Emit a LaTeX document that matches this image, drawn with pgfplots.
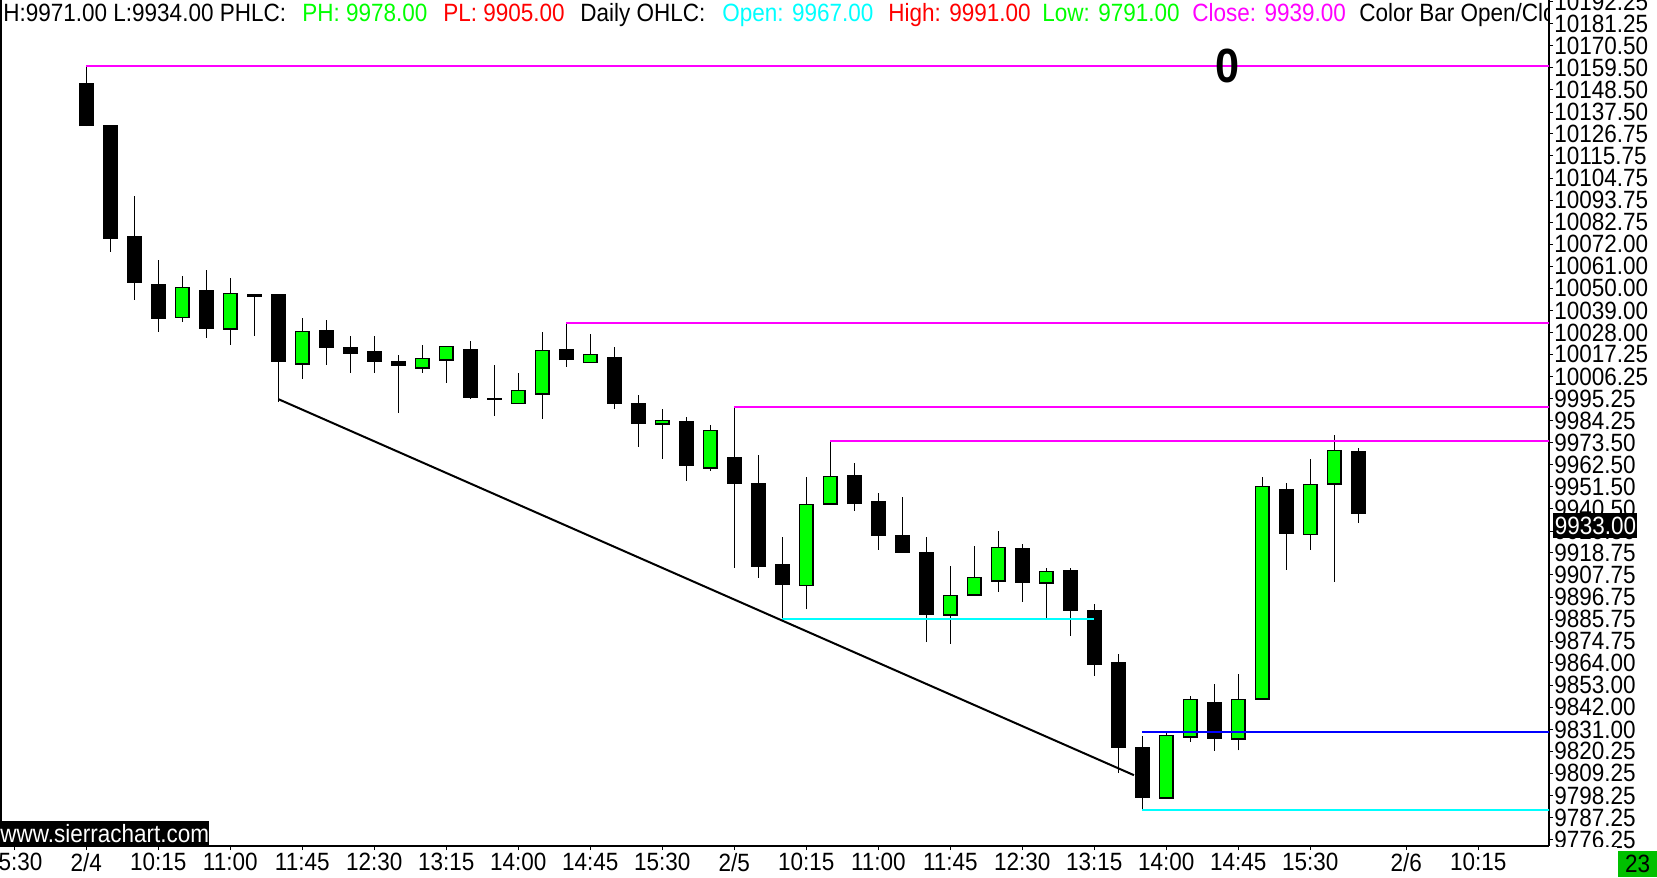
\documentclass[border=0pt]{standalone}
\usepackage{fontspec}
\setmainfont{Liberation Sans}[FakeStretch=0.9]
\usepackage{pgfplots}
\usepackage{pgfplotstable}
\pgfplotsset{compat=1.18}

\definecolor{cgreen}{HTML}{00FF00}
\definecolor{cmag}{HTML}{FF00FF}
\definecolor{ccyan}{HTML}{00FFFF}
\definecolor{cblue}{HTML}{0000FF}
\definecolor{cred}{HTML}{FF0000}
\definecolor{boxgreen}{HTML}{00C000}

% 15 min bars, i = bar number (0 = 2/4 9:30)
% down (black) bars
\pgfplotstableread{
i o h l c
0 10152.0 10160.5 10130.5 10130.5
1 10131.0 10131.0 10068.2 10074.7
2 10076.0 10095.8 10044.4 10052.8
3 10052.2 10064.1 10028.5 10035.0
5 10049.2 10059.1 10025.5 10030.0
7 10047.2 10047.2 10026.5 10045.9
8 10047.2 10047.2 9993.5 10013.6
10 10029.3 10034.3 10012.1 10020.5
11 10020.9 10026.3 10008.1 10017.6
12 10018.9 10026.3 10008.1 10013.6
13 10013.9 10016.9 9988.3 10011.6
16 10019.9 10023.9 9995.1 9995.7
17 9995.4 10011.9 9986.7 9994.6
20 10019.7 10032.9 10011.1 10014.4
22 10015.7 10020.9 9990.2 9992.7
23 9992.9 9996.9 9971.4 9982.8
25 9984.0 9986.0 9954.5 9961.9
27 9966.1 9990.9 9911.3 9953.0
28 9953.3 9967.2 9906.3 9911.8
29 9913.1 9926.5 9885.8 9902.9
32 9957.3 9963.3 9939.6 9942.9
33 9944.4 9948.3 9920.1 9927.2
34 9927.5 9946.4 9918.8 9918.8
35 9919.1 9926.4 9874.4 9888.0
39 9920.9 9923.1 9894.4 9903.9
41 9910.0 9911.0 9877.4 9890.0
42 9890.3 9893.3 9857.7 9863.2
43 9864.5 9868.5 9809.5 9821.9
44 9822.3 9827.8 9791.0 9797.2
47 9844.6 9853.6 9820.5 9826.4
50 9950.4 9953.2 9910.3 9928.2
53 9969.1 9970.5 9933.7 9938.1
}\downbars
% up (green) bars
\pgfplotstableread{
i o h l c
4 10036.0 10056.1 10033.5 10050.0
6 10030.2 10055.1 10022.0 10047.0
9 10012.8 10035.3 10005.2 10028.2
14 10010.8 10021.9 10008.1 10014.8
15 10014.8 10020.7 10003.2 10020.7
18 9993.3 10008.0 9993.3 9999.0
19 9997.9 10028.1 9985.3 10018.7
21 10013.6 10027.3 10013.1 10016.7
24 9983.0 9990.1 9965.4 9984.0
26 9961.1 9982.0 9959.5 9979.0
30 9902.9 9956.3 9890.6 9942.3
31 9943.3 9974.3 9943.3 9956.2
36 9888.2 9912.2 9873.6 9897.1
37 9898.1 9922.1 9897.4 9906.0
38 9905.0 9929.5 9899.4 9920.9
40 9904.0 9911.0 9886.3 9909.0
45 9797.4 9829.1 9797.4 9827.6
46 9827.6 9847.6 9825.0 9845.5
48 9826.6 9858.5 9820.6 9845.5
49 9846.4 9956.3 9845.9 9951.2
51 9928.2 9965.3 9920.3 9952.2
52 9953.2 9977.2 9904.4 9969.1
}\upbars

\pgfplotsset{
  wick/.style={draw=none, no markers, forget plot,
    error bars/.cd, y dir=plus, y explicit, error mark=none,
    error bar style={draw=black, line width=0.75pt, solid}},
  body/.style 2 args={draw=none, no markers, forget plot,
    error bars/.cd, y dir=plus, y explicit, error mark=none,
    error bar style={draw=#1, line width=#2, solid, line cap=butt}},
}

\begin{document}
\begin{tikzpicture}
\useasboundingbox (0,0) rectangle (828.5pt,438.5pt);
\fill[white] (0,0) rectangle (828.5pt,438.5pt);
\begin{axis}[
    at={(0pt,15.5pt)}, anchor=south west,
    scale only axis, width=774.5pt, height=423pt,
    xmin=-3.596, xmax=60.946,
    ymin=9773.13, ymax=10193.17,
    axis x line*=bottom, axis y line*=right,
    axis line style={-, line width=0.75pt},
    tick align=outside, major tick length=2pt,
    tick style={black, line width=0.5pt},
    scaled y ticks=false,
    clip mode=individual,
    tick label style={font=\fontsize{12.5}{14}\selectfont},
    xtick={-3,0,3,6,9,12,15,18,21,24,27,30,33,36,39,42,45,48,51,55,58},
    xticklabels={15:30,2/4,10:15,11:00,11:45,12:30,13:15,14:00,14:45,15:30,2/5,10:15,11:00,11:45,12:30,13:15,14:00,14:45,15:30,2/6,10:15},
    xticklabel style={anchor=north, inner sep=0pt, yshift=-1.5pt},
    ytick={10192.25,10181.25,10170.5,10159.5,10148.5,10137.5,10126.75,10115.75,10104.75,10093.75,10082.75,10072,10061,10050,10039,10028,10017.25,10006.25,9995.25,9984.25,9973.5,9962.5,9951.5,9940.5,9929.5,9918.75,9907.75,9896.75,9885.75,9874.75,9864,9853,9842,9831,9820.25,9809.25,9798.25,9787.25,9776.25},
    yticklabels={10192.25,10181.25,10170.50,10159.50,10148.50,10137.50,10126.75,10115.75,10104.75,10093.75,10082.75,10072.00,10061.00,10050.00,10039.00,10028.00,10017.25,10006.25,9995.25,9984.25,9973.50,9962.50,9951.50,9940.50,9929.50,9918.75,9907.75,9896.75,9885.75,9874.75,9864.00,9853.00,9842.00,9831.00,9820.25,9809.25,9798.25,9787.25,9776.25},
    yticklabel style={anchor=west, inner sep=0pt, xshift=0.5pt},
]

% wicks (low to high)
\addplot[wick] table[x=i, y=l, y error plus expr=\thisrow{h}-\thisrow{l}] {\downbars};
\addplot[wick] table[x=i, y=l, y error plus expr=\thisrow{h}-\thisrow{l}] {\upbars};
% black bodies (close to open)
\addplot[body={black}{7.5pt}] table[x=i, y=c, y error plus expr=\thisrow{o}-\thisrow{c}] {\downbars};
% green bodies: black outline, then green fill (open to close)
\addplot[body={black}{7.5pt}] table[x=i, y expr=\thisrow{o}-0.7, y error plus expr=\thisrow{c}-\thisrow{o}+1.4] {\upbars};
\addplot[body={cgreen}{6pt}] table[x=i, y=o, y error plus expr=\thisrow{c}-\thisrow{o}] {\upbars};

% swing high / low lines
\addplot[cmag, line width=1pt] coordinates {(0,10160.6) (61,10160.6)};
\addplot[cmag, line width=1pt] coordinates {(20,10032.9) (61,10032.9)};
\addplot[cmag, line width=1pt] coordinates {(27,9990.9) (61,9990.9)};
\addplot[cmag, line width=1pt] coordinates {(31,9974.3) (61,9974.3)};
\addplot[ccyan, line width=1pt] coordinates {(29,9885.8) (42,9885.8)};
\addplot[ccyan, line width=1pt] coordinates {(44,9791.0) (61,9791.0)};
\addplot[cblue, line width=1pt] coordinates {(44,9829.5) (61,9829.5)};
% trend line
\addplot[black, line width=1pt] coordinates {(8,9995.0) (43.65,9808.3)};
\end{axis}

% overlays, in pixel units (y down)
\begin{scope}[shift={(0,438.5pt)}, x=0.5pt, y=-0.5pt, font=\fontsize{12.5}{14}\selectfont]
  \draw[line width=1pt] (0.5,0) -- (0.5,846);
  \begin{scope}
    \clip (0,0) rectangle (1548,846);
    \node[anchor=base west, inner sep=0pt] at (3,21.5) {H:9971.00 L:9934.00 PHLC:};
    \node[anchor=base west, inner sep=0pt, text=cgreen] at (302,21.5) {PH: 9978.00};
    \node[anchor=base west, inner sep=0pt, text=cred] at (443,21.5) {PL: 9905.00};
    \node[anchor=base west, inner sep=0pt] at (580,21.5) {Daily OHLC:};
    \node[anchor=base west, inner sep=0pt, text=ccyan] at (722,21.5) {Open: 9967.00};
    \node[anchor=base west, inner sep=0pt, text=cred] at (888,21.5) {High: 9991.00};
    \node[anchor=base west, inner sep=0pt, text=cgreen] at (1042,21.5) {Low: 9791.00};
    \node[anchor=base west, inner sep=0pt, text=cmag] at (1192,21.5) {Close: 9939.00};
    \node[anchor=base west, inner sep=0pt] at (1359,21.5) {Color Bar Open/Close};
  \end{scope}
  \node[font=\fontsize{24}{24}\selectfont\bfseries] at (1227,66) {0};
  \node[fill=black, text=white, anchor=south west, inner xsep=0pt, inner ysep=0pt,
        minimum height=12.5pt] at (0,846) {www.sierrachart.com};
  \fill[white] (1550,847) rectangle (1617,877);
  \node[fill=black, text=white, anchor=west, inner xsep=0pt, inner ysep=0pt,
        minimum height=12.8pt, minimum width=42pt] at (1553,525.5) {9933.00};
  \node[fill=boxgreen, text=black, inner sep=0pt, minimum width=19.5pt,
        minimum height=13pt] at (1637.5,864) {23};
\end{scope}
\end{tikzpicture}
\end{document}
